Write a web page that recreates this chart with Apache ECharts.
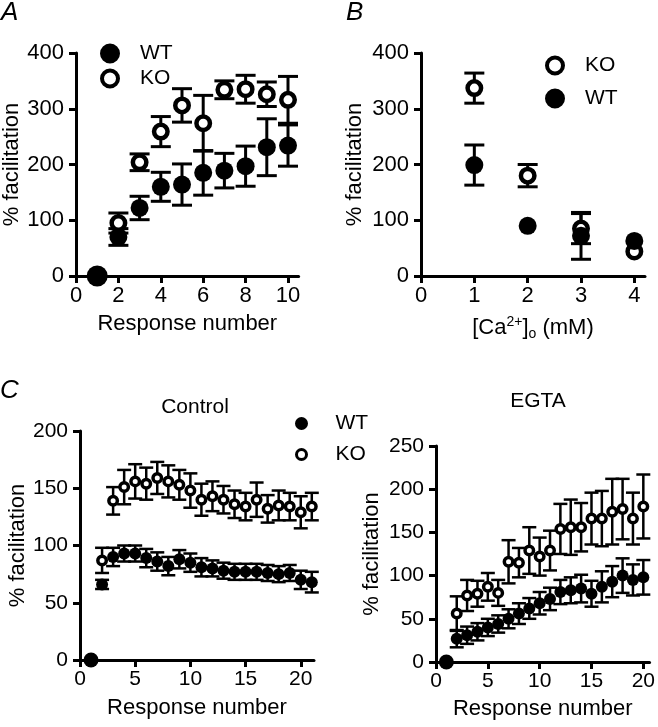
<!DOCTYPE html>
<html>
<head>
<meta charset="utf-8">
<script src="https://cdn.jsdelivr.net/npm/echarts@6/dist/echarts.min.js"></script>
<style>
  html, body { margin: 0; padding: 0; background: #fff; }
  #chart { width: 658px; height: 727px; }
</style>
</head>
<body>
<div id="chart"></div>
<script>
// panel A: facilitation vs response number
const aWTx = [1, 2, 3, 4, 5, 6, 7, 8, 9, 10];
const aWT = [0, 70, 122, 160, 164, 185, 189, 197, 231, 234];
const aWTerr = [0, 15, 21, 26, 37, 40, 31, 36, 51, 37];
const aKOx = [2, 3, 4, 5, 6, 7, 8, 9, 10];
const aKO = [95, 204, 259, 306, 274, 334, 335, 326, 316];
const aKOerr = [18, 15, 27, 30, 50, 16, 25, 22, 42];

// panel B: facilitation vs [Ca2+]o
const bX = [1, 2, 3, 4];
const bKO = [337, 180, 85, 44];
const bKOerr = [27, 20, 27, 0];
const bWT = [199, 90, 72, 63];
const bWTerr = [36, 0, 42, 0];

// panel C, control
const cWTx = [1, 2, 3, 4, 5, 6, 7, 8, 9, 10, 11, 12, 13, 14, 15, 16, 17, 18, 19, 20, 21];
const cWT = [0, 66, 90, 93, 93, 89, 86, 82, 88, 85, 81, 80, 78, 77, 77, 77, 76, 75, 76, 70, 68];
const cWTerr = [0, 4, 8, 7, 7, 8, 8, 8, 8, 8, 8, 7, 7, 7, 7, 7, 7, 7, 7, 8, 9];
const cKOx = [2, 3, 4, 5, 6, 7, 8, 9, 10, 11, 12, 13, 14, 15, 16, 17, 18, 19, 20, 21];
const cKO = [87, 139, 151, 156, 154, 159, 156, 153, 148, 140, 143, 140, 136, 134, 140, 132, 135, 134, 129, 134];
const cKOerr = [11, 12, 15, 15, 14, 14, 14, 13, 15, 14, 13, 12, 12, 12, 15, 12, 13, 12, 14, 12];

// panel C, EGTA
const eWTx = [1, 2, 3, 4, 5, 6, 7, 8, 9, 10, 11, 12, 13, 14, 15, 16, 17, 18, 19, 20];
const eWT = [0, 27, 31, 35, 40, 44, 50, 56, 62, 68, 73, 81, 83, 85, 79, 87, 93, 100, 95, 98];
const eWTerr = [0, 10, 10, 10, 10, 10, 11, 12, 12, 13, 13, 14, 15, 16, 15, 18, 18, 20, 18, 20];
const eKOx = [2, 3, 4, 5, 6, 7, 8, 9, 10, 11, 12, 13, 14, 15, 16, 17, 18, 19, 20];
const eKO = [56, 77, 79, 87, 80, 116, 115, 129, 122, 129, 154, 156, 156, 166, 166, 174, 177, 166, 180];
const eKOerr = [20, 18, 15, 16, 15, 25, 17, 27, 22, 23, 29, 32, 28, 30, 32, 38, 35, 30, 37];

const font = 'Liberation Sans, Arial, sans-serif';

let chart = echarts.init(document.getElementById('chart'));

function zip(xs, ys, es) {
  return xs.map((x, i) => [x, ys[i], es ? es[i] : 0]);
}

function errBars(capW, lw) {
  return function (params, api) {
    let x = api.value(0), y = api.value(1), e = api.value(2);
    if (!e) return;
    let top = api.coord([x, y + e]);
    let bot = api.coord([x, y - e]);
    let st = { stroke: '#000', lineWidth: lw };
    return {
      type: 'group',
      children: [
        { type: 'line', shape: { x1: top[0], y1: top[1], x2: bot[0], y2: bot[1] }, style: st },
        { type: 'line', shape: { x1: top[0] - capW / 2, y1: top[1], x2: top[0] + capW / 2, y2: top[1] }, style: st },
        { type: 'line', shape: { x1: bot[0] - capW / 2, y1: bot[1], x2: bot[0] + capW / 2, y2: bot[1] }, style: st }
      ]
    };
  };
}

function xAx(i, max, ticks, name, gap, fs) {
  return {
    gridIndex: i, type: 'value', min: 0, max: max,
    axisLine: { lineStyle: { color: '#000', width: 3 } },
    axisTick: { length: 7, customValues: ticks, lineStyle: { color: '#000', width: 3 } },
    axisLabel: { customValues: ticks, color: '#000', fontSize: fs, fontFamily: font, margin: 9 },
    splitLine: { show: false },
    name: name, nameLocation: 'middle', nameGap: gap,
    nameTextStyle: {
      color: '#000', fontSize: 22, fontFamily: font,
      rich: {
        sup: { fontSize: 14, verticalAlign: 'top', padding: [0, 0, 12, 0], fontFamily: font, color: '#000' },
        sub: { fontSize: 14, padding: [12, 0, 0, 0], fontFamily: font, color: '#000' }
      }
    }
  };
}

function yAx(i, max, interval, gap, fs) {
  return {
    gridIndex: i, type: 'value', min: 0, max: max, interval: interval,
    axisLine: { show: true, lineStyle: { color: '#000', width: 3 } },
    axisTick: { show: true, length: 7, lineStyle: { color: '#000', width: 3 } },
    axisLabel: { color: '#000', fontSize: fs, fontFamily: font, margin: 12 },
    splitLine: { show: false },
    name: '% facilitation', nameLocation: 'middle', nameGap: gap,
    nameTextStyle: { color: '#000', fontSize: 22, fontFamily: font }
  };
}

function points(i, name, data, filled, size, bw, z) {
  return {
    type: 'scatter', name: name, xAxisIndex: i, yAxisIndex: i,
    data: data, z: z,
    symbol: 'circle',
    symbolSize: (v) => (v[1] === 0 && filled ? size + 3 : size),
    itemStyle: filled
      ? { color: '#000', borderColor: '#000', borderWidth: 0, opacity: 1 }
      : { color: '#fff', borderColor: '#000', borderWidth: bw, opacity: 1 },
    emphasis: { disabled: true }
  };
}

function bars(i, name, data, capW, lw) {
  return {
    type: 'custom', name: name + ' err', xAxisIndex: i, yAxisIndex: i,
    data: data, z: 1, renderItem: errBars(capW, lw),
    encode: { x: 0, y: 1 }
  };
}

function legend(left, top, order, w, h, gap, bw) {
  return {
    left: left, top: top, orient: 'vertical', data: order,
    icon: 'circle', itemWidth: w, itemHeight: h, itemGap: gap,
    selectedMode: false,
    itemStyle: { borderWidth: bw, borderColor: '#000' },
    textStyle: { color: '#000', fontSize: 21, fontFamily: font }
  };
}

const letter = { fontSize: 26, fontStyle: 'italic', fontWeight: 'normal', fontFamily: font, color: '#000' };
const head = { fontSize: 21, fontWeight: 'normal', fontFamily: font, color: '#000' };

let option = {
  animation: false,
  backgroundColor: '#fff',
  title: [
    { text: 'A', left: 1, top: 0, padding: 0, textStyle: letter },
    { text: 'B', left: 346, top: 0, padding: 0, textStyle: letter },
    { text: 'C', left: 0, top: 378, padding: 0, textStyle: letter },
    { text: 'Control', left: 195, top: 397, textAlign: 'center', padding: 0, textStyle: head },
    { text: 'EGTA', left: 538, top: 391, textAlign: 'center', padding: 0, textStyle: head }
  ],
  legend: [
    legend(95, 38, ['WT', 'KO'], 50, 16, 4, 4),
    legend(540, 50, ['KO', 'WT'], 50, 16, 12, 4),
    legend(290, 408, ['WT', 'KO'], 58, 10, 10, 3)
  ],
  grid: [
    { left: 76, top: 53, width: 222.6, height: 223 },
    { left: 421, top: 53, width: 224, height: 223 },
    { left: 80, top: 431, width: 234, height: 229 },
    { left: 436, top: 446, width: 218, height: 216 }
  ],
  xAxis: [
    xAx(0, 10.5, [0, 2, 4, 6, 8, 10], 'Response number', 37, 22),
    xAx(1, 4.2, [0, 1, 2, 3, 4], '[Ca{sup|2+}]{sub|o} (mM)', 39, 22),
    xAx(2, 21.2, [0, 5, 10, 15, 20], 'Response number', 37, 21),
    xAx(3, 20.6, [0, 5, 10, 15, 20], 'Response number', 36, 21)
  ],
  yAxis: [
    yAx(0, 400, 100, 52, 22),
    yAx(1, 400, 100, 55, 22),
    yAx(2, 200, 50, 47, 21),
    yAx(3, 250, 50, 53, 21)
  ],
  series: [
    bars(0, 'WT', zip(aWTx, aWT, aWTerr), 20, 3),
    bars(0, 'KO', zip(aKOx, aKO, aKOerr), 20, 3),
    points(0, 'WT', zip(aWTx, aWT), true, 18, 4.5, 3),
    points(0, 'KO', zip(aKOx, aKO), false, 13.5, 4.5, 4),

    bars(1, 'KO', zip(bX, bKO, bKOerr), 20, 3),
    bars(1, 'WT', zip(bX, bWT, bWTerr), 20, 3),
    points(1, 'KO', zip(bX, bKO), false, 13.5, 4.5, 3),
    points(1, 'WT', zip(bX, bWT), true, 18, 4.5, 4),

    bars(2, 'WT', zip(cWTx, cWT, cWTerr), 14, 2.5),
    bars(2, 'KO', zip(cKOx, cKO, cKOerr), 14, 2.5),
    points(2, 'WT', zip(cWTx, cWT), true, 12, 3.5, 4),
    points(2, 'KO', zip(cKOx, cKO), false, 8.5, 3.5, 3),

    bars(3, 'WT', zip(eWTx, eWT, eWTerr), 14, 2.5),
    bars(3, 'KO', zip(eKOx, eKO, eKOerr), 14, 2.5),
    points(3, 'WT', zip(eWTx, eWT), true, 12, 3.5, 4),
    points(3, 'KO', zip(eKOx, eKO), false, 8.5, 3.5, 3)
  ]
};

chart.setOption(option);
</script>
</body>
</html>
